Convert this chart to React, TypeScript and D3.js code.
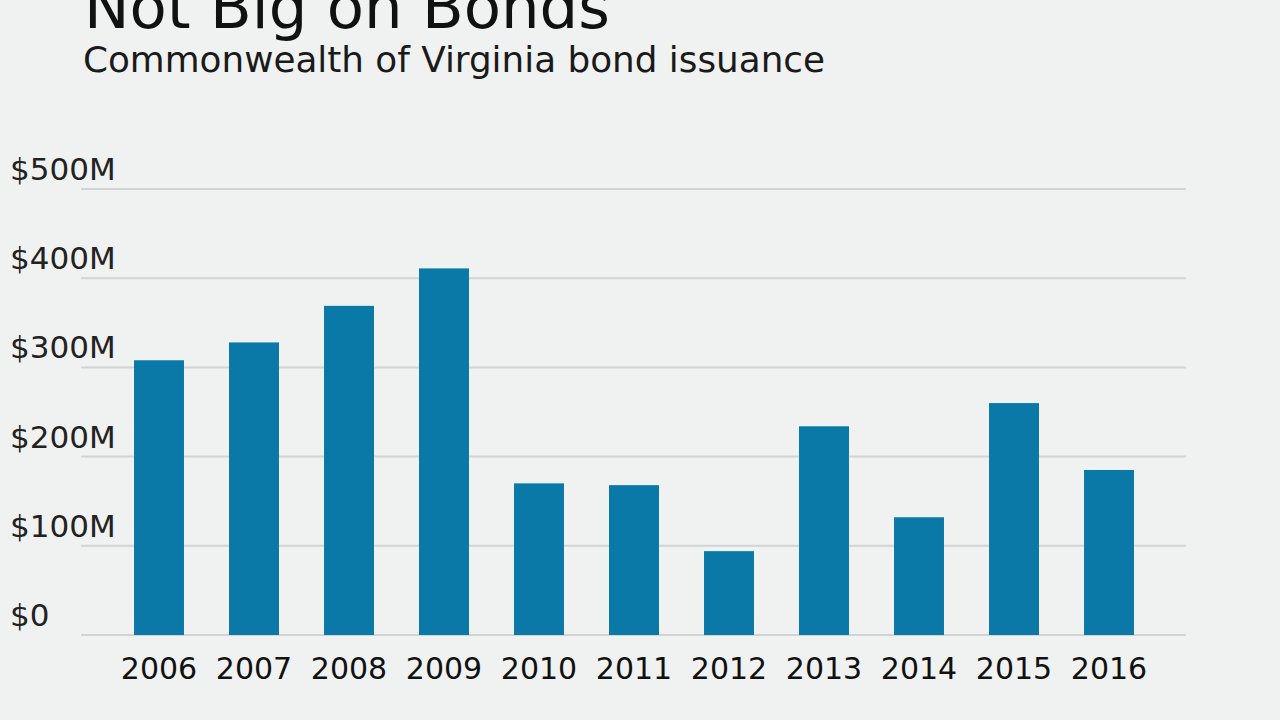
import React from "react";
import * as d3 from "d3";

const years = ["2006", "2007", "2008", "2009", "2010", "2011", "2012", "2013", "2014", "2015", "2016"];
const issuance = [308, 328, 369, 411, 170, 168, 94, 234, 132, 260, 185];
const yTicks = [0, 100, 200, 300, 400, 500];
const tickLabels = ["$0", "$100M", "$200M", "$300M", "$400M", "$500M"];

const W = 1280;
const H = 720;
const BG = "#f0f2f1";
const BAR = "#0b79a7";
const GRID = "#d2d4d4";

export default function App() {
  const x = d3
    .scaleBand<string>()
    .domain(years)
    .range([111.5, 1156.5])
    .paddingInner(0.474)
    .paddingOuter(0.237);
  const y = d3.scaleLinear().domain([0, 500]).range([635, 189]);
  const font = "'DejaVu Sans', Verdana, sans-serif";

  return (
    <svg
      width={W}
      height={H}
      style={{ position: "absolute", left: 0, top: 0, display: "block" }}
    >
      <rect x={0} y={0} width={W} height={H} fill={BG} />
      <text
        x={84}
        y={28}
        fontFamily={font}
        fontSize={60}
        textLength={526}
        lengthAdjust="spacingAndGlyphs"
        fill="#111"
      >
        Not Big on Bonds
      </text>
      <text
        x={83}
        y={72}
        fontFamily={font}
        fontSize={35}
        textLength={742}
        lengthAdjust="spacingAndGlyphs"
        fill="#1a1a1a"
      >
        Commonwealth of Virginia bond issuance
      </text>

      {yTicks.map((t, i) => (
        <g key={t}>
          <line
            x1={81}
            x2={1186}
            y1={y(t)}
            y2={y(t)}
            stroke={GRID}
            strokeWidth={2}
          />
          <text
            x={10}
            y={y(t) - 9}
            fontFamily={font}
            fontSize={31}
            fill="#222"
          >
            {tickLabels[i]}
          </text>
        </g>
      ))}

      {years.map((yr, i) => (
        <rect
          key={yr}
          x={x(yr)}
          y={y(issuance[i])}
          width={x.bandwidth()}
          height={y(0) - y(issuance[i])}
          fill={BAR}
        />
      ))}

      {years.map((yr) => (
        <text
          key={yr}
          x={(x(yr) as number) + x.bandwidth() / 2}
          y={679}
          textAnchor="middle"
          fontFamily={font}
          fontSize={30}
          fill="#111"
        >
          {yr}
        </text>
      ))}
    </svg>
  );
}
